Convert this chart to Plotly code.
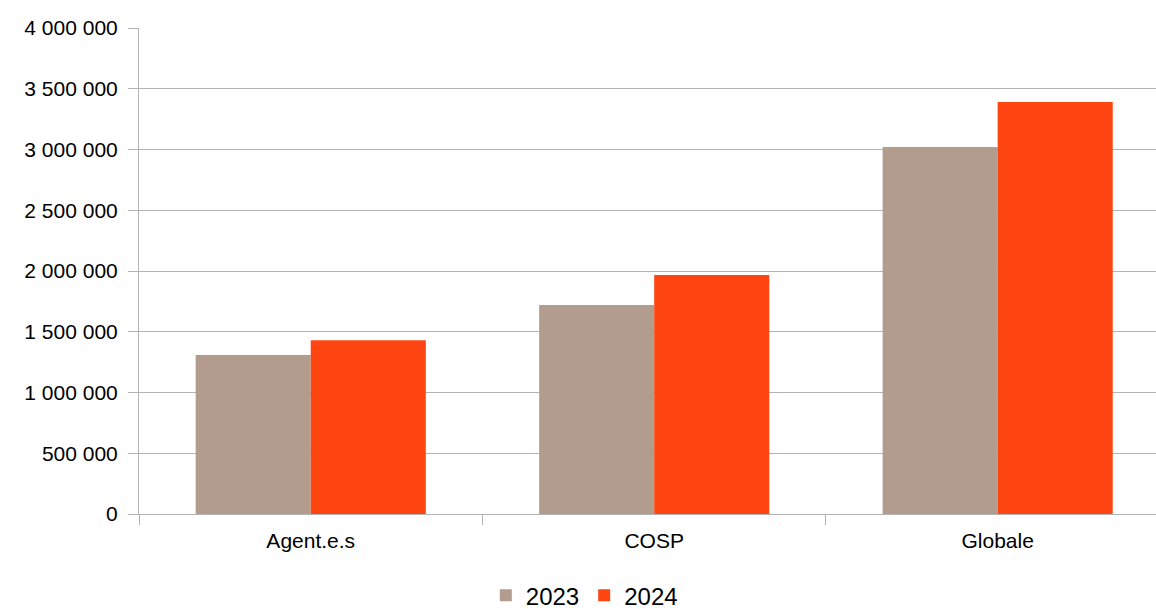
import plotly.graph_objects as go

categories = ["Agent.e.s", "COSP", "Globale"]
values_2023 = [1308000, 1720000, 3021000]
values_2024 = [1431000, 1967000, 3391000]
y_ticks = [0, 500000, 1000000, 1500000, 2000000, 2500000, 3000000, 3500000, 4000000]
y_tick_labels = ["0", "500 000", "1 000 000", "1 500 000", "2 000 000",
                 "2 500 000", "3 000 000", "3 500 000", "4 000 000"]

FONT = "Liberation Sans, Arial, sans-serif"
GRID = "#b3b3b3"

fig = go.Figure()
fig.add_trace(go.Bar(name="2023", x=categories, y=values_2023, marker_color="#b19c8d",
                     marker_line_width=0))
fig.add_trace(go.Bar(name="2024", x=categories, y=values_2024, marker_color="#ff4512",
                     marker_line_width=0))

fig.update_layout(
    width=1156, height=609,
    margin=dict(l=139, r=0, t=28, b=95, autoexpand=False),
    paper_bgcolor="white", plot_bgcolor="white",
    barmode="group", bargap=0.33, bargroupgap=0,
    font=dict(family=FONT, size=21, color="black"),
    showlegend=True,
    legend=dict(orientation="h", x=0.341, xanchor="left",
                y=0.022, yref="container", yanchor="middle",
                font=dict(size=24), itemwidth=30, tracegroupgap=0,
                bgcolor="rgba(0,0,0,0)"),
    xaxis=dict(type="category", range=[-0.5, 2.461], showgrid=False,
               tickson="boundaries", ticks="outside", ticklen=10, tickcolor=GRID,
               showline=True, linecolor=GRID, linewidth=1,
               ticklabelstandoff=8, automargin=False,
               tickfont=dict(size=21)),
    yaxis=dict(range=[0, 4000000], tickvals=y_ticks, ticktext=y_tick_labels,
               showgrid=True, gridcolor=GRID, gridwidth=1,
               ticks="outside", ticklen=10, tickcolor=GRID,
               showline=True, linecolor=GRID, linewidth=1,
               ticklabelstandoff=6, automargin=False,
               zeroline=False, tickfont=dict(size=21)),
)

fig.write_html("out.html")
